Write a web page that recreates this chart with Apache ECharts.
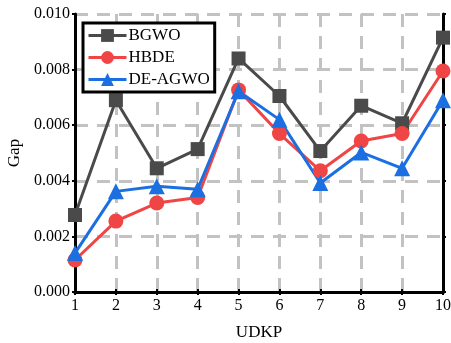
<!DOCTYPE html>
<html>
<head>
<meta charset="utf-8">
<script src="https://cdn.jsdelivr.net/npm/echarts@6/dist/echarts.min.js"></script>
<style>
  html, body { margin: 0; padding: 0; background: #fff; }
  #chart { width: 451px; height: 343px; }
</style>
</head>
<body>
<div id="chart"></div>
<script>
const udkp = [1, 2, 3, 4, 5, 6, 7, 8, 9, 10];
const bgwo = [0.00277, 0.0069, 0.00445, 0.00514, 0.0084, 0.00705, 0.00507, 0.0067, 0.00607, 0.00915];
const hbde = [0.00115, 0.00255, 0.0032, 0.0034, 0.00727, 0.0057, 0.00436, 0.00543, 0.0057, 0.00795];
const deagwo = [0.0014, 0.00362, 0.0038, 0.0037, 0.00722, 0.0062, 0.00392, 0.00502, 0.00445, 0.0069];

const serif = "Liberation Serif";
const gridDash = { type: [13, 9], color: "#c2c2c2", width: 3 };

const pairs = (ys) => udkp.map((x, i) => [x, ys[i]]);

const chart = echarts.init(document.getElementById("chart"));
chart.setOption({
  animation: false,
  textStyle: { fontFamily: serif },
  grid: { left: 75, right: 8, top: 14, bottom: 51, outerBoundsMode: "none", containLabel: false },
  legend: {
    orient: "vertical",
    left: 83,
    top: 23,
    width: 126,
    padding: [4, 5, 4, 4],
    itemWidth: 38,
    itemHeight: 16,
    itemGap: 5,
    borderColor: "#000",
    borderWidth: 3,
    backgroundColor: "#fff",
    lineStyle: { width: 3 },
    textStyle: { fontFamily: serif, fontSize: 17, color: "#000", padding: [0, 0, 0, -3] },
    data: ["BGWO", "HBDE", "DE-AGWO"],
  },
  xAxis: [
    {
      type: "value",
      min: 1,
      max: 10,
      interval: 1,
      name: "UDKP",
      nameLocation: "middle",
      nameGap: 32,
      nameTextStyle: { fontFamily: serif, fontSize: 17, color: "#000" },
      axisLine: { lineStyle: { color: "#000", width: 3 } },
      axisTick: { inside: true, length: 3, lineStyle: { color: "#000", width: 2 } },
      axisLabel: { fontFamily: serif, fontSize: 16, color: "#000", margin: 6 },
      splitLine: { show: true, lineStyle: gridDash },
    },
    {
      type: "value",
      position: "top",
      min: 1,
      max: 10,
      interval: 1,
      axisLine: { lineStyle: { color: "#000", width: 3 } },
      axisTick: { inside: true, length: 3, lineStyle: { color: "#000", width: 2 } },
      axisLabel: { show: false },
      splitLine: { show: false },
    },
  ],
  yAxis: [
    {
      type: "value",
      min: 0,
      max: 0.01,
      interval: 0.002,
      name: "Gap",
      nameLocation: "middle",
      nameGap: 52,
      nameRotate: 90,
      nameTextStyle: { fontFamily: serif, fontSize: 17, color: "#000" },
      axisLine: { lineStyle: { color: "#000", width: 3 } },
      axisTick: { show: true, length: 3, lineStyle: { color: "#000", width: 2 } },
      axisLabel: {
        fontFamily: serif,
        fontSize: 16,
        color: "#000",
        margin: 5,
        formatter: (v) => v.toFixed(3),
      },
      splitLine: { show: true, lineStyle: gridDash },
    },
    {
      type: "value",
      position: "right",
      min: 0,
      max: 0.01,
      interval: 0.002,
      axisLine: { show: true, lineStyle: { color: "#000", width: 3 } },
      axisTick: { show: true, length: 3, lineStyle: { color: "#000", width: 2 } },
      axisLabel: { show: false },
      splitLine: { show: false },
    },
  ],
  series: [
    {
      name: "BGWO",
      type: "line",
      data: pairs(bgwo),
      symbol: "rect",
      symbolSize: 14,
      lineStyle: { width: 3, color: "#4a4a4a" },
      itemStyle: { color: "#4a4a4a" },
    },
    {
      name: "HBDE",
      type: "line",
      data: pairs(hbde),
      symbol: "circle",
      symbolSize: 15,
      lineStyle: { width: 3, color: "#f04545" },
      itemStyle: { color: "#f04545" },
    },
    {
      name: "DE-AGWO",
      type: "line",
      data: pairs(deagwo),
      symbol: "triangle",
      symbolSize: 16,
      lineStyle: { width: 3, color: "#1b6fe0" },
      itemStyle: { color: "#1b6fe0" },
    },
  ],
});
</script>
</body>
</html>
